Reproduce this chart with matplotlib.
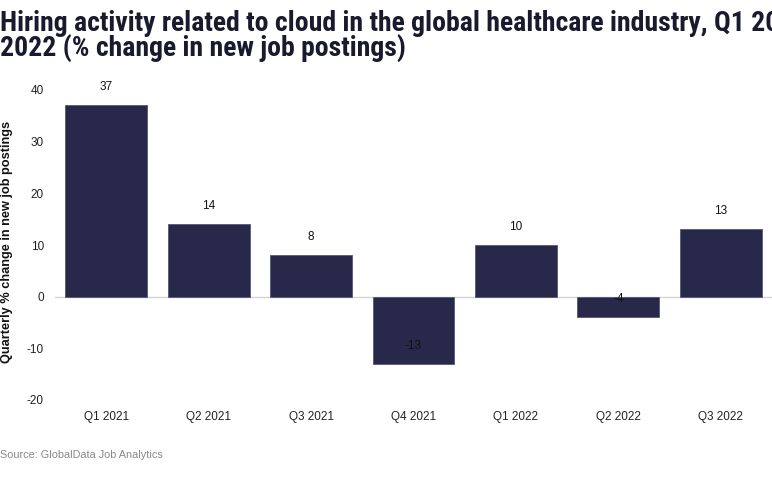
import matplotlib
matplotlib.use("Agg")
import matplotlib.pyplot as plt

quarters = ["Q1 2021", "Q2 2021", "Q3 2021", "Q4 2021", "Q1 2022", "Q2 2022", "Q3 2022"]
values = [37, 14, 8, -13, 10, -4, 13]
yticks = [-20, -10, 0, 10, 20, 30, 40]

title_font = ["Roboto Condensed", "Open Sans Condensed", "Liberation Sans Narrow", "Roboto", "DejaVu Sans"]
body_font = ["Liberation Sans", "DejaVu Sans"]

fig = plt.figure(figsize=(7.72, 4.78), dpi=100)
ax = fig.add_axes([55/772, 1-400/478, 1-55/772, (400-90)/478])

bar_color = "#28284a"
x = list(range(len(quarters)))
ax.bar(x, values, width=0.8, color=bar_color, edgecolor="#55557a", linewidth=0.6, zorder=3)
ax.axhline(0, color="#d4d4d4", linewidth=1, zorder=2)

for xi, v in zip(x, values):
    ax.annotate(str(v), (xi, v), xytext=(0, 18), textcoords="offset pixels",
                ha="center", va="center", fontsize=8.5, family=body_font,
                color="#111111", zorder=4, annotation_clip=False)

ax.set_xlim(-0.5, 6.5)
ax.set_ylim(-20, 40)
ax.set_yticks(yticks)
ax.set_yticklabels([str(t) for t in yticks], family=body_font, fontsize=8.5, color="#222222")
ax.set_xticks(x)
ax.set_xticklabels(quarters, family=body_font, fontsize=8.5, color="#222222")
ax.tick_params(axis="both", length=0)
ax.tick_params(axis="y", pad=8)
ax.tick_params(axis="x", pad=8)
for s in ax.spines.values():
    s.set_visible(False)

ax.set_ylabel("Quarterly % change in new job postings", family=body_font, fontsize=9.2,
              fontweight="bold", color="#111111")
ax.yaxis.set_label_coords(-0.058, 0.51)

fig.text(0.0, 1-10/478, "Hiring activity related to cloud in the global healthcare industry, Q1 2021-Q3\n2022 (% change in new job postings)",
         ha="left", va="top", fontsize=20, fontweight="bold", family=title_font,
         color="#1a1a2e", linespacing=0.86)

fig.text(0.0, 1-455/478, "Source: GlobalData Job Analytics", ha="left", va="center",
         fontsize=7.8, family=body_font, color="#888888")

fig.savefig("out.png", dpi=100)
